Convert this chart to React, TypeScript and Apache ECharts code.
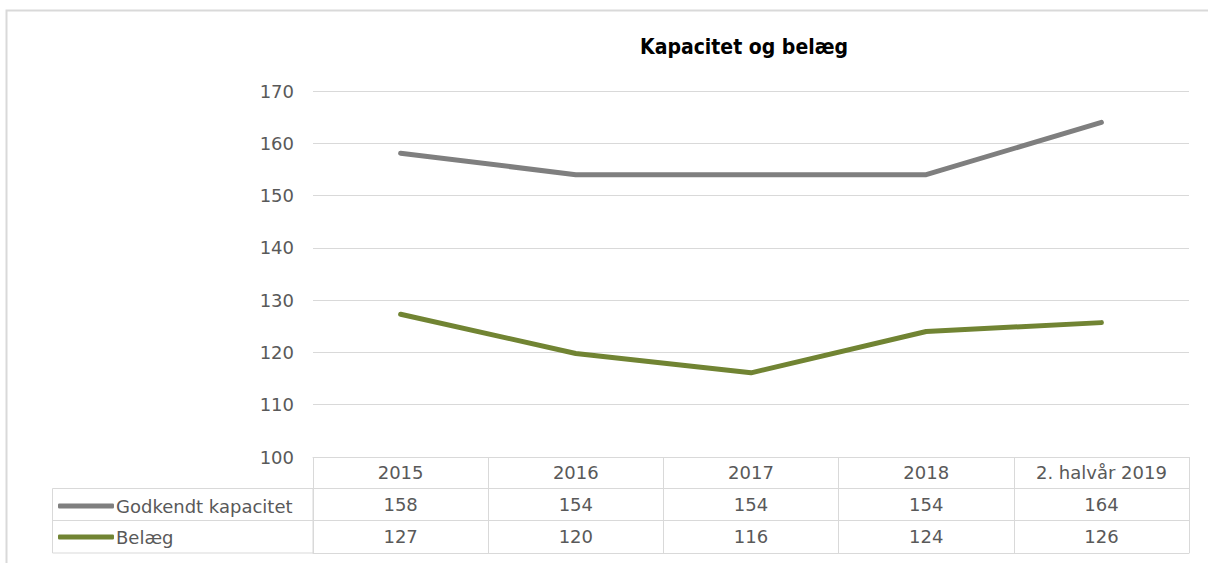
import React, { useEffect, useRef } from "react";
import * as echarts from "echarts";

const title = "Kapacitet og belæg";
const categories = ["2015", "2016", "2017", "2018", "2. halvår 2019"];
const seriesNames = ["Godkendt kapacitet", "Belæg"];
const kapacitet = [158.1, 154, 154, 154, 164];
const belaeg = [127.3, 119.8, 116.1, 124.0, 125.7];
const yMin = 100;
const yMax = 170;
const yInterval = 10;

const FONT = "DejaVu Sans";
const TITLE_FONT = "DejaVu Sans Condensed";
const GRID = "#d9d9d9";
const TEXT = "#595959";

export default function App() {
  const ref = useRef<HTMLDivElement>(null);
  useEffect(() => {
    document.body.style.margin = "0";
    const chart = echarts.init(ref.current!, null, { renderer: "svg" });
    const rowAxis = (offset: number, margin: number, values: number[] | null) => ({
      type: "category",
      data: categories,
      position: "bottom",
      offset,
      boundaryGap: true,
      axisLine: { show: true, lineStyle: { color: GRID, width: 1 } },
      axisTick: { show: false },
      axisLabel: values
        ? {
            show: true,
            margin,
            interval: 0,
            color: TEXT,
            fontFamily: FONT,
            fontSize: 18,
            formatter: (_v: string, i: number) => String(Math.round(values[i])),
          }
        : { show: false },
      splitLine: { show: false },
    });
    chart.setOption({
      animation: false,
      backgroundColor: "#ffffff",
      title: {
        text: title,
        left: 739,
        textAlign: "center",
        top: 31,
        textStyle: { fontFamily: TITLE_FONT, fontSize: 21, fontWeight: "bold", color: "#000000" },
      },
      legend: {
        orient: "vertical",
        left: 53,
        top: 492,
        itemGap: 13,
        itemWidth: 56,
        itemHeight: 5,
        icon: "roundRect",
        textStyle: { fontFamily: FONT, fontSize: 18, color: TEXT, padding: [0, 0, 0, -3] },
        data: seriesNames,
      },
      grid: { left: 313, right: 19, top: 91, bottom: 106, containLabel: false },
      xAxis: [
        {
          type: "category",
          data: categories,
          position: "bottom",
          boundaryGap: true,
          axisLine: { show: true, lineStyle: { color: GRID, width: 1 } },
          axisTick: { show: true, length: 96, inside: false, lineStyle: { color: GRID, width: 1 } },
          axisLabel: { show: true, margin: 6, interval: 0, color: TEXT, fontFamily: FONT, fontSize: 18 },
          splitLine: { show: false },
        },
        rowAxis(31, 7, kapacitet),
        rowAxis(63, 7, belaeg),
        rowAxis(96, 0, null),
      ],
      yAxis: {
        type: "value",
        min: yMin,
        max: yMax,
        interval: yInterval,
        axisLine: { show: false },
        axisTick: { show: false },
        axisLabel: { margin: 19, color: TEXT, fontFamily: FONT, fontSize: 18 },
        splitLine: { show: true, lineStyle: { color: GRID, width: 1 } },
      },
      series: [
        {
          name: seriesNames[0],
          type: "line",
          data: kapacitet,
          symbol: "none",
          itemStyle: { color: "#7f7f7f" },
          lineStyle: { color: "#7f7f7f", width: 5, cap: "round", join: "round" },
        },
        {
          name: seriesNames[1],
          type: "line",
          data: belaeg,
          symbol: "none",
          itemStyle: { color: "#718433" },
          lineStyle: { color: "#718433", width: 5, cap: "round", join: "round" },
        },
      ],
      graphic: [
        {
          type: "rect",
          shape: { x: 6.5, y: 10.5, width: 1300, height: 700 },
          style: { fill: "none", stroke: "#d9d9d9", lineWidth: 2 },
          silent: true,
        },
        {
          type: "rect",
          shape: { x: 52.5, y: 488.5, width: 260.5, height: 64.5 },
          style: { fill: "none", stroke: GRID, lineWidth: 1 },
          silent: true,
        },
        {
          type: "line",
          shape: { x1: 52.5, y1: 520.5, x2: 313, y2: 520.5 },
          style: { stroke: GRID, lineWidth: 1 },
          silent: true,
        },
      ],
    });
    return () => chart.dispose();
  }, []);
  return <div ref={ref} style={{ width: 1208, height: 563 }} />;
}
